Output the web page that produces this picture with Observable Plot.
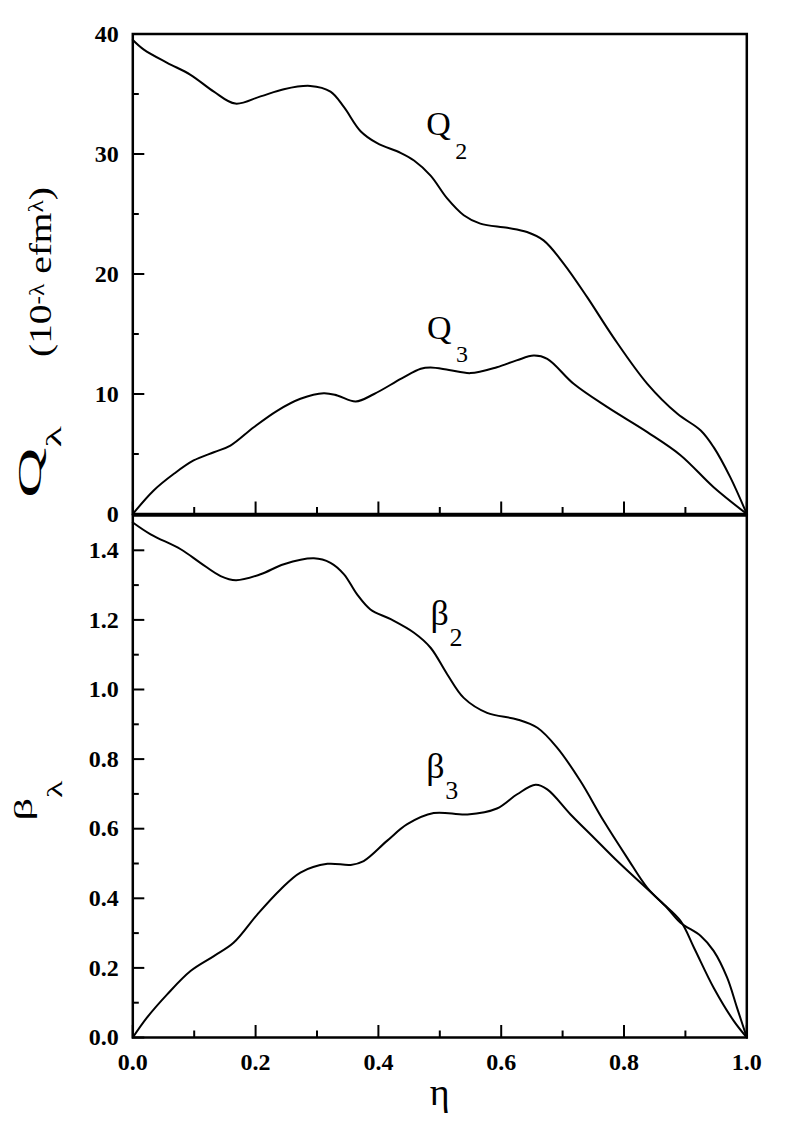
<!DOCTYPE html>
<html>
<head>
<meta charset="utf-8">
<script src="https://cdn.jsdelivr.net/npm/d3@7"></script>
<script src="https://cdn.jsdelivr.net/npm/@observablehq/plot@0.6"></script>
<style>
  body { margin: 0; background: #fff; }
  #wrap { position: relative; width: 790px; height: 1140px; background: #fff; }
  #wrap svg { position: absolute; left: 0; overflow: visible; }
</style>
</head>
<body>
<div id="wrap"></div>
<script>
// ---------- data ----------
const etaQ2 = [0, 0.018, 0.056, 0.094, 0.132, 0.167, 0.208, 0.246, 0.289, 0.322, 0.344, 0.371, 0.398, 0.436, 0.458, 0.485, 0.512, 0.539, 0.566, 0.610, 0.642, 0.669, 0.702, 0.740, 0.783, 0.838, 0.887, 0.925, 0.946, 0.973, 1.0];
const valQ2 = [39.5, 38.7, 37.6, 36.6, 35.2, 34.2, 34.8, 35.4, 35.67, 35.2, 33.9, 31.9, 30.9, 30.1, 29.46, 28.2, 26.3, 24.9, 24.2, 23.85, 23.5, 22.8, 20.85, 18.07, 14.7, 10.85, 8.35, 6.96, 5.57, 3.07, 0];

const etaQ3 = [0, 0.034, 0.067, 0.099, 0.132, 0.159, 0.197, 0.235, 0.273, 0.311, 0.333, 0.363, 0.393, 0.438, 0.469, 0.485, 0.515, 0.550, 0.593, 0.625, 0.653, 0.675, 0.718, 0.773, 0.838, 0.892, 0.946, 1.0];
const valQ3 = [0, 1.96, 3.35, 4.46, 5.15, 5.7, 7.23, 8.6, 9.6, 10.07, 9.88, 9.38, 10.0, 11.3, 12.1, 12.2, 12.0, 11.74, 12.23, 12.8, 13.2, 12.93, 10.85, 8.9, 6.82, 4.9, 2.23, 0];

const etaB2 = [0, 0.029, 0.078, 0.110, 0.143, 0.168, 0.208, 0.246, 0.295, 0.322, 0.344, 0.365, 0.387, 0.420, 0.458, 0.485, 0.512, 0.539, 0.577, 0.626, 0.659, 0.691, 0.729, 0.767, 0.805, 0.838, 0.870, 0.892, 0.925, 0.946, 0.968, 0.984, 1.0];
const valB2 = [1.48, 1.446, 1.403, 1.364, 1.326, 1.314, 1.331, 1.360, 1.377, 1.364, 1.331, 1.274, 1.230, 1.202, 1.163, 1.120, 1.044, 0.976, 0.933, 0.914, 0.890, 0.833, 0.737, 0.622, 0.517, 0.430, 0.373, 0.330, 0.292, 0.249, 0.172, 0.086, 0];

const etaB3 = [0, 0.023, 0.056, 0.094, 0.132, 0.164, 0.203, 0.241, 0.273, 0.317, 0.355, 0.376, 0.414, 0.447, 0.490, 0.545, 0.593, 0.626, 0.656, 0.675, 0.713, 0.751, 0.789, 0.859, 0.892, 0.914, 0.946, 0.979, 1.0];
const valB3 = [0, 0.057, 0.124, 0.191, 0.234, 0.272, 0.354, 0.426, 0.474, 0.499, 0.496, 0.507, 0.565, 0.613, 0.645, 0.641, 0.658, 0.699, 0.726, 0.713, 0.641, 0.574, 0.507, 0.392, 0.335, 0.258, 0.143, 0.047, 0];

// ticks
const xMajor = [0, 0.2, 0.4, 0.6, 0.8, 1.0];
const xMinor = [0.1, 0.3, 0.5, 0.7, 0.9];
const qMajor = [0, 10, 20, 30, 40];
const qMinor = [5, 15, 25, 35];
const bMajor = [0, 0.2, 0.4, 0.6, 0.8, 1.0, 1.2, 1.4];
const bMinor = [0.1, 0.3, 0.5, 0.7, 0.9, 1.1, 1.3];

// curve labels (anchor in data units)
const qLabels = [{t: "Q", s: "2", x: 0.478, y: 32.45}, {t: "Q", s: "3", x: 0.479, y: 15.53}];
const bLabels = [{t: "β", s: "2", x: 0.485, y: 1.218}, {t: "β", s: "3", x: 0.478, y: 0.779}];

const toRows = (xs, ys) => xs.map((x, i) => ({x, y: ys[i]}));

// ---------- layout ----------
const W = 790;
const mL = 132.3, mR = 790 - 746.3;
const plotW = W - mL - mR;
const serif = "Liberation Serif";
const tickLong = 12, tickShort = 6.5;
const tickFont = {fontFamily: serif, fontSize: 24, fontWeight: "bold"};
const labFont = {fontFamily: serif, fontWeight: "normal", textAnchor: "start"};

const wrap = document.getElementById("wrap");

// ---------- top panel ----------
const topMT = 33.5, topH = 480, topMB = 14.5;
const topSvg = Plot.plot({
  width: W, height: topMT + topH + topMB,
  marginLeft: mL, marginRight: mR, marginTop: topMT, marginBottom: topMB,
  x: {domain: [0, 1], axis: null},
  y: {domain: [0, 40]},
  style: {fontFamily: serif, fontSize: "24px", background: "none", color: "black"},
  marks: [
    Plot.tickY(qMajor, {y: d => d, insetRight: plotW - tickLong, strokeWidth: 2}),
    Plot.tickY(qMinor, {y: d => d, insetRight: plotW - tickShort, strokeWidth: 2}),
    Plot.tickX(xMajor, {x: d => d, insetTop: topH - tickLong, strokeWidth: 2}),
    Plot.tickX(xMinor, {x: d => d, insetTop: topH - tickShort, strokeWidth: 2}),
    Plot.axisY(qMajor, {tickSize: 0, tickPadding: 14, label: null, ...tickFont}),
    Plot.line(toRows(etaQ2, valQ2), {x: "x", y: "y", curve: "catmull-rom", stroke: "black", strokeWidth: 2}),
    Plot.line(toRows(etaQ3, valQ3), {x: "x", y: "y", curve: "catmull-rom", stroke: "black", strokeWidth: 2}),
    Plot.text(qLabels, {x: "x", y: "y", text: "t", fontSize: 34, ...labFont}),
    Plot.text(qLabels, {x: "x", y: "y", text: "s", fontSize: 24, dx: 29, dy: 27, ...labFont}),
    Plot.frame({stroke: "black", strokeWidth: 2.5})
  ]
});
topSvg.style.top = "0px";
wrap.appendChild(topSvg);

// ---------- bottom panel ----------
const botMT = 12, botH = 522, botMB = 1140 - 1036.5;
const botTop = 514.5 - botMT;
const botSvg = Plot.plot({
  width: W, height: botMT + botH + botMB,
  marginLeft: mL, marginRight: mR, marginTop: botMT, marginBottom: botMB,
  x: {domain: [0, 1]},
  y: {domain: [0, 1.5]},
  style: {fontFamily: serif, fontSize: "24px", background: "none", color: "black"},
  marks: [
    Plot.tickY(bMajor, {y: d => d, insetRight: plotW - tickLong, strokeWidth: 2}),
    Plot.tickY(bMinor, {y: d => d, insetRight: plotW - tickShort, strokeWidth: 2}),
    Plot.tickX(xMajor, {x: d => d, insetTop: botH - tickLong, strokeWidth: 2}),
    Plot.tickX(xMinor, {x: d => d, insetTop: botH - tickShort, strokeWidth: 2}),
    Plot.axisY(bMajor, {tickSize: 0, tickPadding: 14, tickFormat: d => d.toFixed(1), label: null, ...tickFont}),
    Plot.axisX(xMajor, {tickSize: 0, tickPadding: 15, tickFormat: d => d.toFixed(1), label: null, ...tickFont}),
    Plot.line(toRows(etaB2, valB2), {x: "x", y: "y", curve: "catmull-rom", stroke: "black", strokeWidth: 2}),
    Plot.line(toRows(etaB3, valB3), {x: "x", y: "y", curve: "catmull-rom", stroke: "black", strokeWidth: 2}),
    Plot.text(bLabels, {x: "x", y: "y", text: "t", fontSize: 36, ...labFont}),
    Plot.text(bLabels, {x: "x", y: "y", text: "s", fontSize: 26, dx: 19, dy: 24, ...labFont}),
    Plot.text(["η"], {frameAnchor: "bottom", text: d => d, fontSize: 38, fontFamily: serif, fontWeight: "normal", dy: 67}),
    Plot.frame({stroke: "black", strokeWidth: 2.5})
  ]
});
botSvg.style.top = botTop + "px";
wrap.appendChild(botSvg);

// ---------- rotated axis titles ----------
function rotLabel(svg, x, y, len, parts) {
  const t = d3.select(svg).append("text")
    .attr("transform", `translate(${x},${y}) rotate(-90)`)
    .attr("text-anchor", "start")
    .attr("font-family", serif)
    .attr("font-weight", "normal")
    .attr("fill", "black")
    .attr("textLength", len)
    .attr("lengthAdjust", "spacingAndGlyphs");
  for (const p of parts) {
    const s = t.append("tspan").attr("font-size", p.size).text(p.text);
    if (p.dy) s.attr("dy", p.dy);
  }
}
rotLabel(topSvg, 41, 498, 72, [
  {text: "Q", size: 33},
  {text: "λ", size: 21, dy: 20}
]);
rotLabel(topSvg, 51, 357, 170, [
  {text: "(10", size: 31},
  {text: "-λ", size: 20, dy: -7},
  {text: " efm", size: 31, dy: 7},
  {text: "λ", size: 20, dy: -8},
  {text: ")", size: 31, dy: 8}
]);
rotLabel(botSvg, 32, 820 - botTop, 40, [
  {text: "β", size: 26},
  {text: "λ", size: 21, dy: 30}
]);
</script>
</body>
</html>
